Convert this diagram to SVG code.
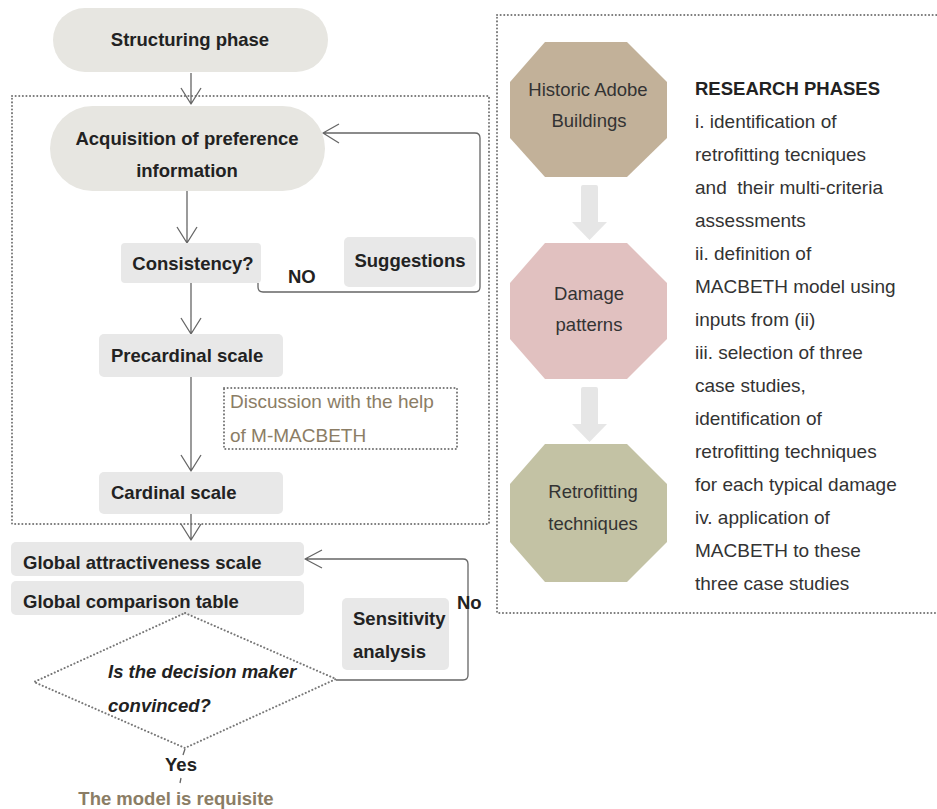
<svg xmlns="http://www.w3.org/2000/svg" width="937" height="809" viewBox="0 0 937 809">
<style>
.b{font-family:"Liberation Sans",Arial,sans-serif;font-weight:bold;font-size:18.5px;fill:#222}
.r{font-family:"Liberation Sans",Arial,sans-serif;font-size:18.5px;fill:#333}
.t{font-size:19px}
.br{fill:#8b7d65}
.box{fill:#e8e8e8}
.pill{fill:#e7e6e1}
.dot{fill:none;stroke:#777;stroke-width:2;stroke-dasharray:0.1 3.5;stroke-linecap:round}
.ln{fill:none;stroke:#666;stroke-width:1.3;stroke-linejoin:round}
.blk{fill:#e6e6e6}
</style>
<rect width="937" height="809" fill="#fff"/>
<g id="frames">
<rect class="dot" x="12" y="96" width="477" height="428"/>
<rect class="dot" x="497" y="15" width="460" height="598"/>
</g>
<g id="connectors">
<path class="ln" d="M191,73 V104 M181,88 L191,104 L201,88"/>
<path class="ln" d="M187,190 V243 M177,227 L187,243 L197,227"/>
<path class="ln" d="M258,283 V287 Q258,292 263,292 H475 Q480,292 480,287 V138 Q480,133 475,133 H323 M339,124 L323,133 L339,143"/>
<path class="ln" d="M191,283 V334 M181,318 L191,334 L201,318"/>
<path class="ln" d="M191,377 V471 M181,455 L191,471 L201,455"/>
<path class="ln" d="M191,514 V540 M181,524 L191,540 L201,524"/>
<path class="ln" d="M336,680 H463 Q468,680 468,675 V564 Q468,559 463,559 H305 M322,550 L305,559 L322,568"/>
<path class="ln" d="M185,749 L183,755 M181,778 L180,783"/>
<path class="blk" d="M581,187 Q581,185 583,185 H596 Q598,185 598,187 V222 H607 L589.5,240 L572,222 H581 Z"/>
<path class="blk" d="M581,389 Q581,387 583,387 H596 Q598,387 598,389 V424 H607 L589.5,442 L572,424 H581 Z"/>
</g>
<g id="structuring">
<rect class="pill" x="53" y="8" width="275" height="64" rx="32"/>
<text class="b" x="190" y="46" text-anchor="middle">Structuring phase</text>
</g>
<g id="acquisition">
<rect class="pill" x="50" y="106" width="275" height="85" rx="42.5"/>
<text class="b" x="187" y="145" text-anchor="middle">Acquisition of preference</text>
<text class="b" x="187" y="177" text-anchor="middle">information</text>
</g>
<g id="consistency">
<rect class="box" x="121" y="243" width="140" height="40" rx="4"/>
<text class="b" x="193" y="270" text-anchor="middle">Consistency?</text>
</g>
<g id="no-label">
<text class="b" x="288" y="283">NO</text>
</g>
<g id="suggestions">
<rect class="box" x="344" y="237" width="132" height="50" rx="5"/>
<text class="b" x="410" y="267" text-anchor="middle">Suggestions</text>
</g>
<g id="precardinal">
<rect class="box" x="99" y="334" width="184" height="43" rx="5"/>
<text class="b" x="111" y="362">Precardinal scale</text>
</g>
<g id="discussion">
<rect class="dot" x="224" y="388" width="233" height="61"/>
<text class="r t br" x="230" y="408">Discussion with the help</text>
<text class="r t br" x="230" y="442">of M-MACBETH</text>
</g>
<g id="cardinal">
<rect class="box" x="99" y="472" width="184" height="42" rx="5"/>
<text class="b" x="111" y="499">Cardinal scale</text>
</g>
<g id="global-attractiveness">
<rect class="box" x="11" y="542" width="293" height="34" rx="5"/>
<text class="b" x="23" y="569">Global attractiveness scale</text>
</g>
<g id="global-comparison">
<rect class="box" x="11" y="581" width="293" height="34" rx="5"/>
<text class="b" x="23" y="608">Global comparison table</text>
</g>
<g id="sensitivity">
<rect class="box" x="342" y="598" width="107" height="72" rx="5"/>
<text class="b" x="353" y="625">Sensitivity</text>
<text class="b" x="353" y="658">analysis</text>
</g>
<g id="no-label-2">
<text class="b" x="457" y="609">No</text>
</g>
<g id="decision">
<polygon class="dot" points="185,613 336,679 185,748 34,682"/>
<text class="b" x="108" y="678" font-style="italic">Is the decision maker</text>
<text class="b" x="108" y="712" font-style="italic">convinced?</text>
</g>
<g id="yes-label">
<text class="b" x="181" y="771" text-anchor="middle">Yes</text>
</g>
<g id="requisite">
<text class="b br" x="176" y="805" text-anchor="middle">The model is requisite</text>
</g>
<g id="historic">
<polygon fill="#c2b199" points="545,42 627,42 667,82 667,138 627,177 545,177 510,138 510,82"/>
<text class="r" x="588" y="96" text-anchor="middle" fill="#222">Historic Adobe</text>
<text class="r" x="589" y="127" text-anchor="middle">Buildings</text>
</g>
<g id="damage">
<polygon fill="#e1c1c0" points="545,243 627,243 667,283 667,339 627,379 545,379 510,339 510,283"/>
<text class="r" x="589" y="300" text-anchor="middle">Damage</text>
<text class="r" x="589" y="331" text-anchor="middle">patterns</text>
</g>
<g id="retrofitting">
<polygon fill="#c3c2a4" points="545,444 627,444 667,484 667,542 627,582 545,582 510,542 510,484"/>
<text class="r" x="593" y="498" text-anchor="middle">Retrofitting</text>
<text class="r" x="593" y="530" text-anchor="middle">techniques</text>
</g>
<g id="research-phases">
<text class="b" x="695" y="95" fill="#333">RESEARCH PHASES</text>
<text class="r t" x="695" y="128">i. identification of</text>
<text class="r t" x="695" y="161">retrofitting tecniques</text>
<text class="r t" x="695" y="194" xml:space="preserve">and  their multi-criteria</text>
<text class="r t" x="695" y="227">assessments</text>
<text class="r t" x="695" y="260">ii. definition of</text>
<text class="r t" x="695" y="293">MACBETH model using</text>
<text class="r t" x="695" y="326">inputs from (ii)</text>
<text class="r t" x="695" y="359">iii. selection of three</text>
<text class="r t" x="695" y="392">case studies,</text>
<text class="r t" x="695" y="425">identification of</text>
<text class="r t" x="695" y="458">retrofitting techniques</text>
<text class="r t" x="695" y="491">for each typical damage</text>
<text class="r t" x="695" y="524">iv. application of</text>
<text class="r t" x="695" y="557">MACBETH to these</text>
<text class="r t" x="695" y="590">three case studies</text>
</g>
</svg>
